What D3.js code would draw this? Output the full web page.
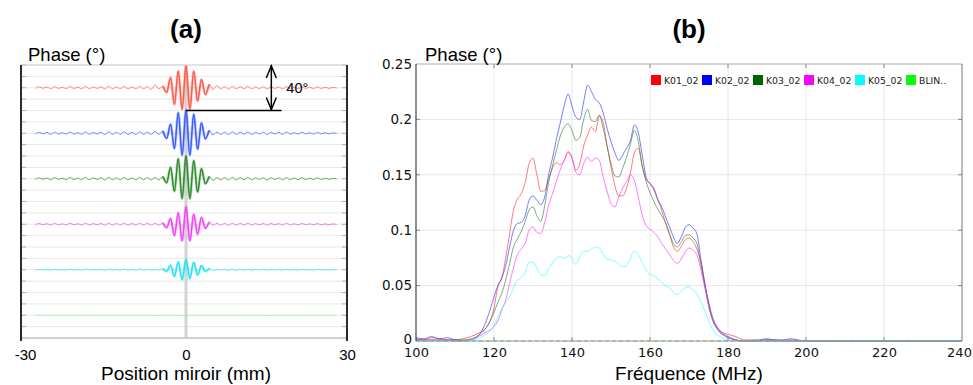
<!DOCTYPE html>
<html><head><meta charset="utf-8">
<script src="https://cdn.jsdelivr.net/npm/d3@7"></script>
<style>
html,body{margin:0;padding:0;background:#fff;}
svg{display:block;}
</style></head><body>
<svg id="c" width="973" height="385"></svg>
<script>
// ---------------- Panel (a) data ----------------
const posTicks = [-30, 0, 30];
const phaseGridA = d3.range(0, 241, 10);
const traceOffsets = [220, 180, 140, 100, 60, 20];
const traceColors = ["#ff5a48", "#3a5cff", "#2f8a2f", "#f244f2", "#22e4f2", "#a5eca5"];
// extrema of each interferogram core (deg, relative to its offset), k = -9..9
const coreRed     = [-1.5, 2.5, -1, 1.5, -4, 8.8, -14.6, 14.6, -19, 19, -19, 14.6, -11.7, 7.3, -6, 3, -1.5, 2, -1];
const coreBlue    = [-1, 1.5, -1, 2, -4.5, 8, -13.4, 18, -19.3, 20.4, -19.3, 16.7, -14, 9, -5, 2.5, -1.5, 1, -1];
const coreGreen   = [-1, 1, -1, 2, -3.5, 10, -11, 17.5, -17.5, 20, -17.5, 16, -11.7, 8.8, -4.4, 2, -1.5, 1, -1];
const coreMagenta = [-0.8, 0.8, -0.8, 1.2, -3, 5, -10, 10, -14.6, 15.5, -14.6, 8.8, -8.8, 6, -3.5, 2, -1, 0.8, -0.8];
const coreCyan    = [-0.4, 0.4, -0.5, 1, -1.5, 4, -5.8, 7, -8.8, 8.8, -7.6, 6.5, -4.6, 3.5, -1.5, 1, -0.6, 0.5, -0.4];
const coreLime    = [0, 0, 0, 0, 0, 0, 0, 0, 0, 0, 0, 0, 0, 0, 0, 0, 0, 0, 0];
// small ripples outside the packet (deg)
const leftTail  = [-0.6, 0.8, -0.5, 0.7, -0.9, 1.0, -0.6, 0.5, -0.8, 1.1, -0.7, 0.6, -0.9, 1.2, -0.8, 0.7, -0.6, 0.9, -1.1, 1.3, -0.9, 0.8, -1.0, 1.2, -0.9, 0.8, -1.0, 1.2, -0.9, 1.0];
const rightTail = [1.0, -1.1, 1.2, -1.0, 0.9, -0.8, 1.1, -1.0, 0.8, -0.7, 0.9, -1.1, 0.8, -0.6, 0.7, -0.9, 1.0, -0.7, 0.6, -0.8, 0.9, -0.6, 0.5, -0.7, 0.8, -0.6, 0.5, -0.6, 0.4, -0.3];
const tailScale = [1, 1, 1, 0.8, 0.5, 0.1];
const extremaStep = 0.72; // mm between successive extrema
const annotSpan = [200, 240]; // 40° arrow
const annotX = 15.9, annotLineEnd = 17.8;

// ---------------- Panel (b) data ----------------
const freq = [100,102,104,106,108,110,112,114,116,
  117,118,119,120,121,122,123,124,125,126,127,128,129,130,
  131,132,133,134,135,136,137,138,139,140,141,142,143,144,145,146,147,148,149,150,
  151,152,153,154,155,156,157,158,159,160,161,162,163,164,165,166,167,168,169,170,
  171,172,173,174,175,176,177,178,179,180,
  182,184,186,188,190,192,194,196,198,200,205,210,220,230,240];
const K01 = [0.002,0.001,0.003,0.002,0.001,0.001,0.002,0.004,0.007,
  0.009,0.012,0.018,0.030,0.049,0.057,0.075,0.097,0.118,0.128,0.133,0.143,0.160,0.165,
  0.150,0.135,0.136,0.146,0.156,0.161,0.159,0.163,0.170,0.165,0.154,0.160,0.176,0.186,0.193,0.189,0.203,0.197,0.176,0.157,
  0.140,0.131,0.131,0.138,0.152,0.170,0.174,0.158,0.146,0.142,0.136,0.127,0.118,0.106,0.096,0.085,0.081,0.085,0.091,0.093,
  0.090,0.083,0.072,0.054,0.032,0.020,0.013,0.009,0.007,0.006,
  0.004,0.001,0.001,0.0005,0.001,0.001,0.0005,0.001,0.0005,0,0,0,0,0,0];
const K02 = [0.003,0.002,0.004,0.002,0.003,0.001,0.0005,0.001,0.005,
  0.010,0.018,0.028,0.040,0.050,0.057,0.068,0.085,0.100,0.106,0.107,0.113,0.127,0.131,
  0.127,0.123,0.130,0.150,0.165,0.182,0.197,0.212,0.223,0.212,0.202,0.200,0.216,0.231,0.225,0.218,0.215,0.206,0.192,0.180,
  0.170,0.163,0.168,0.174,0.181,0.195,0.188,0.168,0.148,0.142,0.138,0.128,0.121,0.112,0.103,0.094,0.088,0.094,0.102,0.105,
  0.102,0.097,0.075,0.052,0.036,0.022,0.014,0.009,0.006,0.004,
  0.001,0,0.0005,0.001,0.002,0.001,0.001,0.002,0.001,0,0,0,0,0,0];
const K03 = [0.001,0.001,0.001,0.001,0.001,0.001,0.001,0.002,0.005,
  0.008,0.012,0.018,0.026,0.035,0.043,0.055,0.070,0.085,0.092,0.099,0.108,0.118,0.121,
  0.113,0.108,0.122,0.143,0.158,0.172,0.185,0.193,0.196,0.190,0.181,0.184,0.200,0.209,0.199,0.198,0.204,0.192,0.176,0.160,
  0.149,0.148,0.156,0.166,0.178,0.190,0.180,0.158,0.144,0.134,0.126,0.119,0.113,0.107,0.097,0.088,0.085,0.089,0.095,0.096,
  0.093,0.088,0.070,0.051,0.034,0.020,0.012,0.008,0.005,0.003,
  0.001,0,0,0,0.001,0,0,0,0,0,0,0,0,0,0];
const K04 = [0.001,0.001,0.001,0.001,0.001,0,0,0.001,0.004,
  0.006,0.008,0.010,0.013,0.018,0.028,0.037,0.052,0.066,0.078,0.083,0.088,0.100,0.103,
  0.098,0.097,0.107,0.122,0.133,0.144,0.155,0.163,0.171,0.166,0.152,0.150,0.160,0.166,0.162,0.165,0.163,0.148,0.135,0.124,
  0.121,0.130,0.138,0.144,0.150,0.145,0.130,0.114,0.104,0.101,0.098,0.094,0.088,0.083,0.078,0.073,0.070,0.074,0.080,0.084,
  0.082,0.078,0.065,0.049,0.032,0.019,0.012,0.007,0.005,0.003,
  0.001,0,0,0,0,0,0,0,0,0,0,0,0,0,0];
const K05 = [0,0,0,0,0,0,0,0.001,0.002,
  0.004,0.006,0.009,0.014,0.022,0.029,0.035,0.040,0.048,0.055,0.057,0.062,0.071,0.071,
  0.066,0.060,0.059,0.065,0.070,0.075,0.076,0.075,0.077,0.075,0.069,0.076,0.081,0.081,0.083,0.085,0.084,0.078,0.074,0.073,
  0.072,0.069,0.067,0.068,0.075,0.081,0.078,0.071,0.064,0.060,0.059,0.056,0.053,0.050,0.048,0.044,0.042,0.045,0.048,0.049,
  0.046,0.043,0.036,0.028,0.019,0.011,0.006,0.004,0.002,0.001,
  0,0,0,0,0,0,0,0,0,0,0,0,0,0,0];
const blinFreq = [100, 240];
const BLIN = [0, 0];
const freqTicks = [100, 120, 140, 160, 180, 200, 220, 240];
const phaseTicks = [0, 0.05, 0.1, 0.15, 0.2, 0.25];
const legendLabels = ["K01_02", "K02_02", "K03_02", "K04_02", "K05_02", "BLIN.."];
const legendColors = ["#ff0000", "#0000ff", "#006400", "#ff00ff", "#00ffff", "#00ff00"];
const lineColors = ["#ff2a2a", "#2a2aff", "#2c7a2c", "#ff2aff", "#2affff", "#22cc22"];

// ---------------- drawing ----------------
const svg = d3.select("#c");
const ARIAL = "'Liberation Sans', Arial, sans-serif";
const DEJA = "'DejaVu Sans', sans-serif";

// ===== Panel (a) =====
const aL = 21, aR = 347, aT = 65, aB = 338;
const xA = d3.scaleLinear().domain([-30, 30]).range([25, 347]);
const yA = d3.scaleLinear().domain([0, 240]).range([aB, aT]);
const gA = svg.append("g");

gA.selectAll("line.grid").data(phaseGridA).enter().append("line")
  .attr("x1", aL).attr("x2", aR).attr("y1", d => yA(d)).attr("y2", d => yA(d))
  .attr("stroke", "#e8e8e8").attr("stroke-width", 1);
gA.selectAll("line.tl").data(phaseGridA).enter().append("line")
  .attr("x1", aL).attr("x2", aL + 5).attr("y1", d => yA(d)).attr("y2", d => yA(d))
  .attr("stroke", "#b0b0b0");
gA.selectAll("line.tr").data(phaseGridA).enter().append("line")
  .attr("x1", aR - 5).attr("x2", aR).attr("y1", d => yA(d)).attr("y2", d => yA(d))
  .attr("stroke", "#b0b0b0");
gA.append("line").attr("x1", xA(0)).attr("x2", xA(0)).attr("y1", aT).attr("y2", aB)
  .attr("stroke", "#d4d4d4").attr("stroke-width", 3);
gA.append("line").attr("x1", aL).attr("x2", aR).attr("y1", aT).attr("y2", aT).attr("stroke", "#d0d0d0");
gA.append("line").attr("x1", aL).attr("x2", aR).attr("y1", aB).attr("y2", aB).attr("stroke", "#c4c4c4").attr("stroke-width", 1.5);
gA.append("line").attr("x1", aL).attr("x2", aL).attr("y1", aT).attr("y2", aB + 3).attr("stroke", "#2a2a2a").attr("stroke-width", 2);
gA.append("line").attr("x1", aR).attr("x2", aR).attr("y1", aT).attr("y2", aB + 3).attr("stroke", "#2a2a2a").attr("stroke-width", 2);

const cores = [coreRed, coreBlue, coreGreen, coreMagenta, coreCyan, coreLime];
const kAll = d3.range(-39, 40);
const lineA = d3.line().x(d => xA(d[0])).y(d => yA(d[1])).curve(d3.curveMonotoneX);
cores.forEach((core, i) => {
  const vals = leftTail.map(v => v * tailScale[i]).concat(core).concat(rightTail.map(v => v * tailScale[i]));
  const pts = kAll.map((k, j) => [k * extremaStep, traceOffsets[i] + vals[j]]);
  gA.append("path").attr("d", lineA(pts)).attr("fill", "none")
    .attr("stroke", traceColors[i]).attr("stroke-width", 1).attr("opacity", 0.7);
  if (i < 5) {
    const corePts = pts.slice(39 - 6, 39 + 7);
    gA.append("path").attr("d", lineA(corePts)).attr("fill", "none")
      .attr("stroke", traceColors[i]).attr("stroke-width", 3).attr("opacity", 0.3);
    gA.append("path").attr("d", lineA(corePts)).attr("fill", "none")
      .attr("stroke", traceColors[i]).attr("stroke-width", 1.3);
  }
});

// 40° annotation
const ax = xA(annotX), ayTop = yA(annotSpan[1]), ayBot = yA(annotSpan[0]);
gA.append("line").attr("x1", xA(0)).attr("x2", xA(annotLineEnd)).attr("y1", ayBot).attr("y2", ayBot)
  .attr("stroke", "#000").attr("stroke-width", 1.5);
gA.append("line").attr("x1", ax).attr("x2", ax).attr("y1", ayTop).attr("y2", ayBot)
  .attr("stroke", "#000").attr("stroke-width", 1.5);
gA.append("path").attr("d", `M${ax - 5},${ayTop + 13}L${ax},${ayTop + 1}L${ax + 5},${ayTop + 13}`)
  .attr("fill", "none").attr("stroke", "#000").attr("stroke-width", 1.5);
gA.append("path").attr("d", `M${ax - 5},${ayBot - 13}L${ax},${ayBot - 1}L${ax + 5},${ayBot - 13}`)
  .attr("fill", "none").attr("stroke", "#000").attr("stroke-width", 1.5);
gA.append("text").attr("x", ax + 15).attr("y", yA(220) + 5).text("40°")
  .attr("font-family", ARIAL).attr("font-size", 14.5).attr("fill", "#000");

const axA = gA.append("g").attr("transform", `translate(0,${aB})`)
  .call(d3.axisBottom(xA).tickValues(posTicks).tickFormat(d => String(d)).tickSize(0).tickPadding(11));
axA.select(".domain").remove();
axA.selectAll("text").attr("font-family", ARIAL).attr("font-size", 15).attr("fill", "#000");

gA.append("text").attr("x", xA(0)).attr("y", 38).attr("text-anchor", "middle").text("(a)")
  .attr("font-family", ARIAL).attr("font-weight", "bold").attr("font-size", 26);
gA.append("text").attr("x", 28).attr("y", 61).text("Phase (°)")
  .attr("font-family", ARIAL).attr("font-size", 18.5);
gA.append("text").attr("x", xA(0)).attr("y", 380).attr("text-anchor", "middle").text("Position miroir (mm)")
  .attr("font-family", ARIAL).attr("font-size", 19);

// ===== Panel (b) =====
const bL = 416, bR = 962, bT = 64, bB = 341;
const xB = d3.scaleLinear().domain([100, 240]).range([bL, bR]);
const yB = d3.scaleLinear().domain([0, 0.25]).range([bB, bT]);
const gB = svg.append("g");

gB.selectAll("line.vg").data(freqTicks.slice(1, -1)).enter().append("line")
  .attr("x1", d => xB(d)).attr("x2", d => xB(d)).attr("y1", bT).attr("y2", bB)
  .attr("stroke", "#e6e6e6");
gB.selectAll("line.hg").data(phaseTicks.slice(1, -1)).enter().append("line")
  .attr("x1", bL).attr("x2", bR).attr("y1", d => yB(d)).attr("y2", d => yB(d))
  .attr("stroke", "#e6e6e6");
gB.selectAll("line.tt").data(freqTicks.slice(1, -1)).enter().append("line")
  .attr("x1", d => xB(d)).attr("x2", d => xB(d)).attr("y1", bT).attr("y2", bT + 4).attr("stroke", "#888");
gB.selectAll("line.tb").data(freqTicks.slice(1, -1)).enter().append("line")
  .attr("x1", d => xB(d)).attr("x2", d => xB(d)).attr("y1", bB - 4).attr("y2", bB).attr("stroke", "#888");
gB.selectAll("line.trr").data(phaseTicks.slice(1, -1)).enter().append("line")
  .attr("x1", bR - 4).attr("x2", bR).attr("y1", d => yB(d)).attr("y2", d => yB(d)).attr("stroke", "#888");
gB.selectAll("line.tll").data(phaseTicks.slice(1, -1)).enter().append("line")
  .attr("x1", bL).attr("x2", bL + 4).attr("y1", d => yB(d)).attr("y2", d => yB(d)).attr("stroke", "#888");

const seriesB = [K01, K02, K03, K04, K05];
const lineB = d3.line().x(d => xB(d[0])).y(d => yB(d[1])).curve(d3.curveMonotoneX);
seriesB.forEach((s, i) => {
  gB.append("path").attr("d", lineB(freq.map((f, j) => [f, s[j]]))).attr("fill", "none")
    .attr("stroke", lineColors[i]).attr("stroke-width", 1).attr("opacity", 0.62);
});
gB.append("path").attr("d", lineB(blinFreq.map((f, j) => [f, BLIN[j]]))).attr("fill", "none")
  .attr("stroke", "#33bb33").attr("stroke-width", 1.2).attr("stroke-dasharray", "4,3").attr("opacity", 0.8);

gB.append("line").attr("x1", bL).attr("x2", bR).attr("y1", bT).attr("y2", bT).attr("stroke", "#aaa");
gB.append("line").attr("x1", bL).attr("x2", bR).attr("y1", bB).attr("y2", bB).attr("stroke", "#999");
gB.append("line").attr("x1", bR).attr("x2", bR).attr("y1", bT).attr("y2", bB).attr("stroke", "#777");
gB.append("line").attr("x1", bL).attr("x2", bL).attr("y1", bT).attr("y2", bB).attr("stroke", "#444").attr("stroke-width", 1.2);

const axBx = gB.append("g").attr("transform", `translate(0,${bB})`)
  .call(d3.axisBottom(xB).tickValues(freqTicks).tickFormat(d => String(d)).tickSize(0).tickPadding(7));
axBx.select(".domain").remove();
axBx.selectAll("text").attr("font-family", DEJA).attr("font-size", 13).attr("fill", "#111")
  .attr("dx", d => d === 240 ? -3 : 0);
const axBy = gB.append("g").attr("transform", `translate(${bL},0)`)
  .call(d3.axisLeft(yB).tickValues(phaseTicks).tickFormat(d => String(d)).tickSize(0).tickPadding(4));
axBy.select(".domain").remove();
axBy.selectAll("text").attr("font-family", DEJA).attr("font-size", 13.5).attr("fill", "#111")
  .attr("dy", d => d === 0 ? "0.15em" : "0.32em");

const lg = gB.append("g");
legendLabels.forEach((l, i) => {
  const lx = 651 + i * 51;
  lg.append("rect").attr("x", lx).attr("y", 75).attr("width", 10).attr("height", 10).attr("fill", legendColors[i]);
  lg.append("text").attr("x", lx + 13).attr("y", 84).text(l)
    .attr("font-family", DEJA).attr("font-size", 9.3).attr("fill", "#222");
});

gB.append("text").attr("x", xB(170)).attr("y", 38).attr("text-anchor", "middle").text("(b)")
  .attr("font-family", ARIAL).attr("font-weight", "bold").attr("font-size", 26);
gB.append("text").attr("x", 425).attr("y", 61).text("Phase (°)")
  .attr("font-family", ARIAL).attr("font-size", 18.5);
gB.append("text").attr("x", (bL + bR) / 2).attr("y", 380).attr("text-anchor", "middle").text("Fréquence (MHz)")
  .attr("font-family", ARIAL).attr("font-size", 19);
</script>
</body></html>
